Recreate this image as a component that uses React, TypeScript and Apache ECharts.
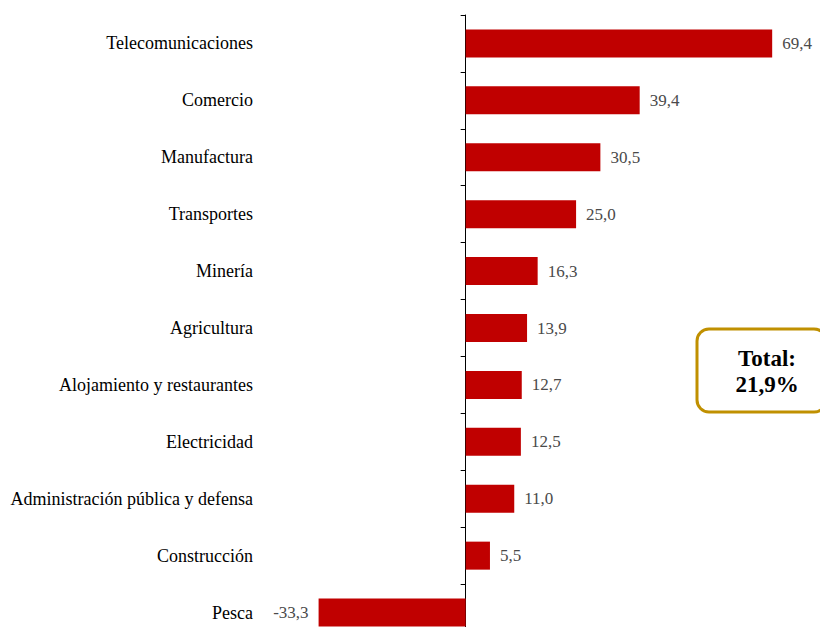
import React, { useEffect, useRef } from "react";
import * as echarts from "echarts";

const categories = [
  "Telecomunicaciones",
  "Comercio",
  "Manufactura",
  "Transportes",
  "Minería",
  "Agricultura",
  "Alojamiento y restaurantes",
  "Electricidad",
  "Administración pública y defensa",
  "Construcción",
  "Pesca",
];
const values = [69.4, 39.4, 30.5, 25.0, 16.3, 13.9, 12.7, 12.5, 11.0, 5.5, -33.3];
const totalLabel = "Total:\n21,9%";

const FONT = "Liberation Serif";

export default function App() {
  const ref = useRef<HTMLDivElement>(null);
  useEffect(() => {
    if (!ref.current) return;
    const chart = echarts.init(ref.current, null, { renderer: "svg" });
    chart.setOption({
      animation: false,
      textStyle: { fontFamily: FONT },
      grid: {
        left: 289,
        top: 15,
        width: 530,
        height: 626,
        containLabel: false,
        outerBoundsMode: "none",
      },
      xAxis: {
        type: "value",
        min: -40,
        max: 80,
        show: false,
      },
      yAxis: [
        {
          type: "category",
          data: categories,
          inverse: true,
          position: "left",
          axisLine: { show: false, onZero: false },
          axisTick: { show: false },
          axisLabel: {
            show: true,
            margin: 36,
            color: "#000000",
            fontFamily: FONT,
            fontSize: 18,
          },
        },
        {
          type: "category",
          data: categories,
          inverse: true,
          position: "left",
          axisLine: { show: true, onZero: true, lineStyle: { color: "#000", width: 1 } },
          axisTick: { show: true, length: 5, lineStyle: { color: "#000" } },
          axisLabel: { show: false },
        },
      ],
      series: [
        {
          type: "bar",
          yAxisIndex: 0,
          barWidth: 28,
          data: values.map((v) => ({
            value: v,
            label: { position: v < 0 ? "left" : "right" },
          })),
          itemStyle: { color: "#C00000" },
          label: {
            show: true,
            distance: 10,
            color: "#4a4a4a",
            fontFamily: FONT,
            fontSize: 17,
            formatter: (p: any) => Number(p.value).toFixed(1).replace(".", ","),
          },
        },
      ],
      graphic: [
        {
          type: "rect",
          shape: { x: 697, y: 329, width: 129, height: 83, r: 12 },
          style: { fill: "#fff", stroke: "#C09000", lineWidth: 3 },
          z: 10,
        },
        {
          type: "text",
          x: 767,
          y: 371,
          z: 11,
          style: {
            text: totalLabel,
            fill: "#000",
            fontFamily: FONT,
            fontWeight: "bold",
            fontSize: 23,
            align: "center",
            verticalAlign: "middle",
            lineHeight: 26,
          },
        },
      ],
    });
    return () => chart.dispose();
  }, []);
  return <div ref={ref} style={{ width: 828, height: 635, margin: -8 }} />;
}
